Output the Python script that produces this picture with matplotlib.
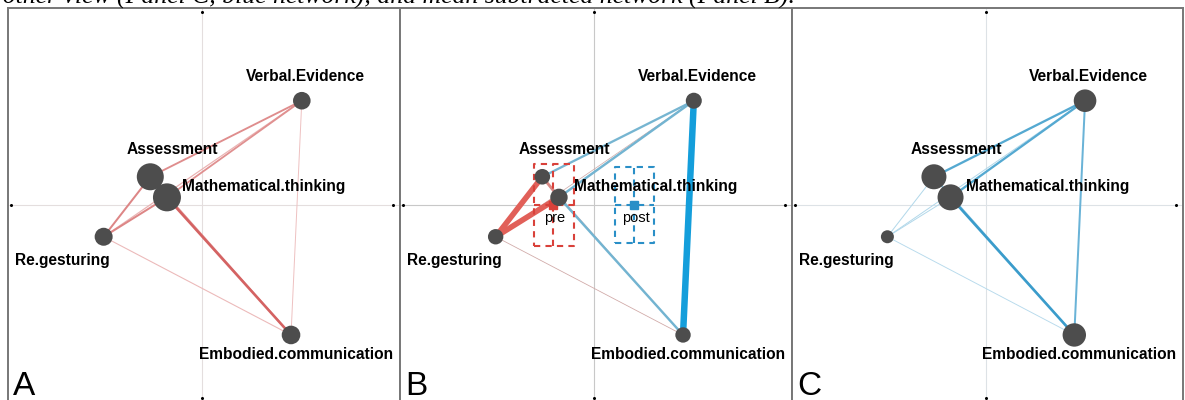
import numpy as np
import matplotlib
matplotlib.use('Agg')
import matplotlib.pyplot as plt
from matplotlib.colors import to_rgb

plt.rcParams.update({
    'font.family': ['Liberation Sans', 'DejaVu Sans'],
    'figure.facecolor': 'white',
    'axes.facecolor': 'white',
})

# ------------------------------------------------------------
# Data
# ------------------------------------------------------------
nodes = ['Assessment', 'Embodied.communication', 'Mathematical.thinking',
         'Re.gesturing', 'Verbal.Evidence']
node_x = [-0.264, 0.454, -0.179, -0.502, 0.509]
node_y = [0.144, -0.663, 0.039, -0.162, 0.532]

# node radius (px) per panel
size_pre = [13.5, 9.3, 14.0, 9.0, 8.8]
size_sub = [7.8, 7.7, 8.7, 7.7, 8.0]
size_post = [12.5, 11.7, 13.0, 6.5, 11.3]

edges = [('Assessment', 'Embodied.communication'),
         ('Assessment', 'Mathematical.thinking'),
         ('Assessment', 'Re.gesturing'),
         ('Assessment', 'Verbal.Evidence'),
         ('Embodied.communication', 'Mathematical.thinking'),
         ('Embodied.communication', 'Re.gesturing'),
         ('Embodied.communication', 'Verbal.Evidence'),
         ('Mathematical.thinking', 'Re.gesturing'),
         ('Mathematical.thinking', 'Verbal.Evidence'),
         ('Re.gesturing', 'Verbal.Evidence')]
w_pre = [0.20, 0.25, 0.25, 0.23, 0.35, 0.10, 0.08, 0.25, 0.22, 0.12]
w_post = [0.15, 0.15, 0.08, 0.30, 0.36, 0.07, 0.25, 0.08, 0.30, 0.08]
# subtracted: positive = pre (red), negative = post (blue)
w_sub = [0.02, 0.40, 0.85, -0.30, -0.32, 0.05, -1.00, 0.85, -0.32, 0.04]

# label anchors (x, y, ha)
label_pos = {
    'Verbal.Evidence': (0.526, 0.653, 'center'),
    'Assessment': (-0.150, 0.281, 'center'),
    'Mathematical.thinking': (-0.100, 0.092, 'left'),
    'Re.gesturing': (-0.712, -0.281, 'center'),
    'Embodied.communication': (0.480, -0.765, 'center'),
}

group_names = ['pre', 'post']
group_mean_x = [-0.209, 0.206]
group_ci_x = [(-0.306, -0.102), (0.107, 0.306)]
group_ci_y = [(-0.209, 0.209), (-0.194, 0.194)]

caption = ('Mean network for the other view (Panel C, blue network), '
           'and mean subtracted network (Panel B).')

RED_AC = '#cf5252'
BLUE_AC = '#2a93c6'
RED_B = '#e8453c'
BLUE_B = '#0099dd'
NODE_COL = '#4d4d4d'
PX = 0.72  # points per pixel at dpi 100


def mix(c1, c2, t):
    a = np.array(to_rgb(c1))
    b = np.array(to_rgb(c2))
    return tuple(b + (a - b) * t)


def draw_panel(ax, weights, sizes, base_pos, base_neg, fade, tscale, letter, grid_col):
    ax.set_xlim(-0.99, 1.01)
    ax.set_ylim(-1.005, 1.005)
    ax.set_xticks([])
    ax.set_yticks([])
    for s in ax.spines.values():
        s.set_color('#777777')
        s.set_linewidth(1.4)
    ax.axhline(0, color=grid_col, lw=0.8, zorder=0)
    ax.axvline(0, color=grid_col, lw=0.8, zorder=0)
    ax.plot([0, 0, -0.975, 0.975], [0.985, -0.985, 0, 0], 'o', color='black',
            ms=1.2, zorder=1)

    idx = {n: i for i, n in enumerate(nodes)}
    order = np.argsort(np.abs(weights))
    for k in order:
        w = weights[k]
        a, b = edges[k]
        base = base_pos if w >= 0 else base_neg
        t = min(1.0, 0.2 + tscale * abs(w))
        col = mix(base, fade, t)
        ax.plot([node_x[idx[a]], node_x[idx[b]]], [node_y[idx[a]], node_y[idx[b]]],
                color=col, lw=(0.5 + 6 * abs(w)) * PX, solid_capstyle='butt', zorder=2)

    ax.scatter(node_x, node_y, s=[(2 * r * PX) ** 2 for r in sizes], color=NODE_COL,
               edgecolors='none', zorder=5)
    for n in nodes:
        lx, ly, ha = label_pos[n]
        ax.text(lx, ly, n, ha=ha, va='center', fontsize=11.2, fontweight='bold',
                color='black', zorder=6)
    ax.text(0.013, 0.018, letter, transform=ax.transAxes, fontsize=24,
            ha='left', va='baseline', zorder=6)


fig = plt.figure(figsize=(11.85, 4.0), dpi=100)
W, H = 1185, 400
ax_a = fig.add_axes([8 / W, -2 / H, 392 / W, 394 / H])
ax_b = fig.add_axes([400 / W, -2 / H, 392 / W, 394 / H])
ax_c = fig.add_axes([792 / W, -2 / H, 391 / W, 394 / H])

draw_panel(ax_a, w_pre, size_pre, RED_AC, RED_AC, 'white', 2.0, 'A', '#e4dede')
draw_panel(ax_b, w_sub, size_sub, RED_B, BLUE_B, '#c8c8c8', 0.7, 'B', '#c8c8c8')
draw_panel(ax_c, w_post, size_post, BLUE_AC, BLUE_AC, 'white', 2.0, 'C', '#dde2e6')

# group means and confidence boxes in panel B
for name, mx, (x0, x1), (y0, y1), col in zip(group_names, group_mean_x, group_ci_x,
                                               group_ci_y, ['#d9413a', '#2a8fc7']):
    kw = dict(color=col, lw=1.5, ls=(0, (3, 2.5)), zorder=3)
    ax_b.plot([x0, x1, x1, x0, x0], [y0, y0, y1, y1, y0], **kw)
    ax_b.plot([mx, mx], [y0, y1], **kw)
    ax_b.plot([x0, x1], [0, 0], **kw)
    ax_b.plot(mx, 0, 's', color=col, ms=8 * PX * 1.1, zorder=4)
    ax_b.text(mx + 0.008, -0.066, name, ha='center', va='center', fontsize=10.5,
              color='black', zorder=6)

# caption of the source page, only its lower edge shows above the panels
fig.text(795 / W, 1 - 2.5 / H, caption, ha='right', va='baseline', fontsize=18.5,
         fontstyle='italic', family=['Liberation Serif', 'DejaVu Serif'])

fig.savefig('out.png', dpi=100)
